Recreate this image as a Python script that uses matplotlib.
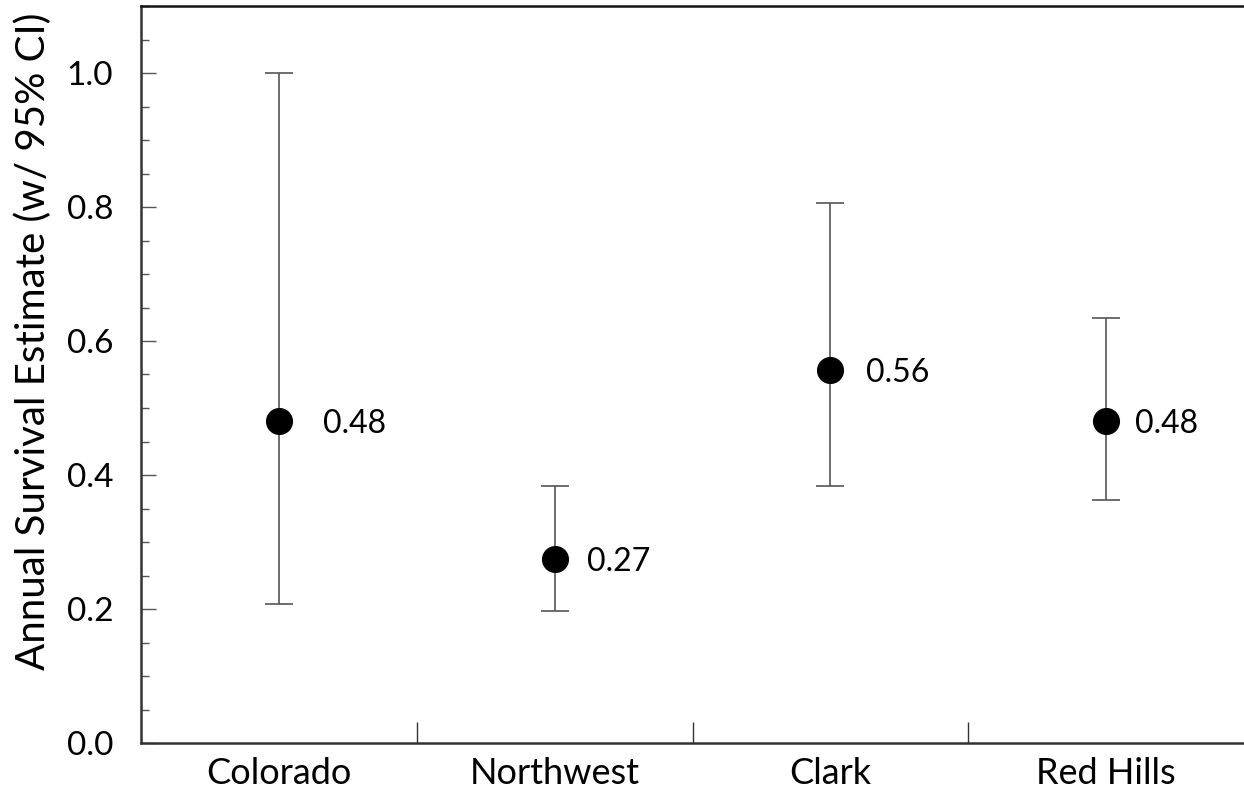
import matplotlib.pyplot as plt
from matplotlib.ticker import MultipleLocator

sites = ["Colorado", "Northwest", "Clark", "Red Hills"]
estimates = [0.48, 0.275, 0.556, 0.48]
ci_low = [0.208, 0.197, 0.384, 0.362]
ci_high = [1.0, 0.384, 0.806, 0.635]
labels = ["0.48", "0.27", "0.56", "0.48"]

plt.rcParams["font.family"] = ["Lato", "DejaVu Sans"]

fig = plt.figure(figsize=(12.44, 7.91), dpi=100)
ax = fig.add_axes([141 / 1244, 1 - 743 / 791, 1103 / 1244, 737 / 791])

x = list(range(len(sites)))
yerr = [[e - lo for e, lo in zip(estimates, ci_low)],
        [hi - e for e, hi in zip(estimates, ci_high)]]
ax.errorbar(x, estimates, yerr=yerr, fmt="o", color="black", ms=18.5,
            ecolor="#555555", elinewidth=1.2, capsize=10, capthick=1.2)

# value labels to the right of each point
label_dx = [32, 23, 26, 21]
for xi, est, lab, dx in zip(x, estimates, labels, label_dx):
    ax.annotate(lab, (xi, est), xytext=(dx, -2), textcoords="offset points",
                ha="left", va="center", fontsize=23)

ax.set_xlim(-0.5, len(sites) - 0.5)
ax.set_ylim(0, 1.1)

ax.yaxis.set_minor_locator(MultipleLocator(0.05))
ax.set_yticks([0.0, 0.2, 0.4, 0.6, 0.8, 1.0])
ax.set_yticklabels(["0.0", "0.2", "0.4", "0.6", "0.8", "1.0"], fontsize=24)
ax.tick_params(axis="y", which="major", direction="in", length=11,
               width=1, color="#555555", pad=20)
ax.tick_params(axis="y", which="minor", direction="in", length=6,
               width=1, color="#555555")

# category labels between boundary ticks
ax.set_xticks([0.5, 1.5, 2.5])
ax.set_xticklabels([])
ax.set_xticks(x, minor=True)
ax.set_xticklabels(sites, minor=True, fontsize=26)
ax.tick_params(axis="x", which="major", direction="in", length=15,
               width=1, color="#333333")
ax.tick_params(axis="x", which="minor", length=0, pad=10)

ax.set_ylabel("Annual Survival Estimate (w/ 95% CI)", fontsize=29)
ax.yaxis.set_label_coords(-0.081, 0.545)

for side in ["left", "bottom"]:
    ax.spines[side].set_linewidth(1.8)
    ax.spines[side].set_color("#333333")
ax.spines["top"].set_linewidth(1.8)
ax.spines["top"].set_color("#111111")
ax.spines["right"].set_visible(False)

fig.savefig("out.png", dpi=100)
